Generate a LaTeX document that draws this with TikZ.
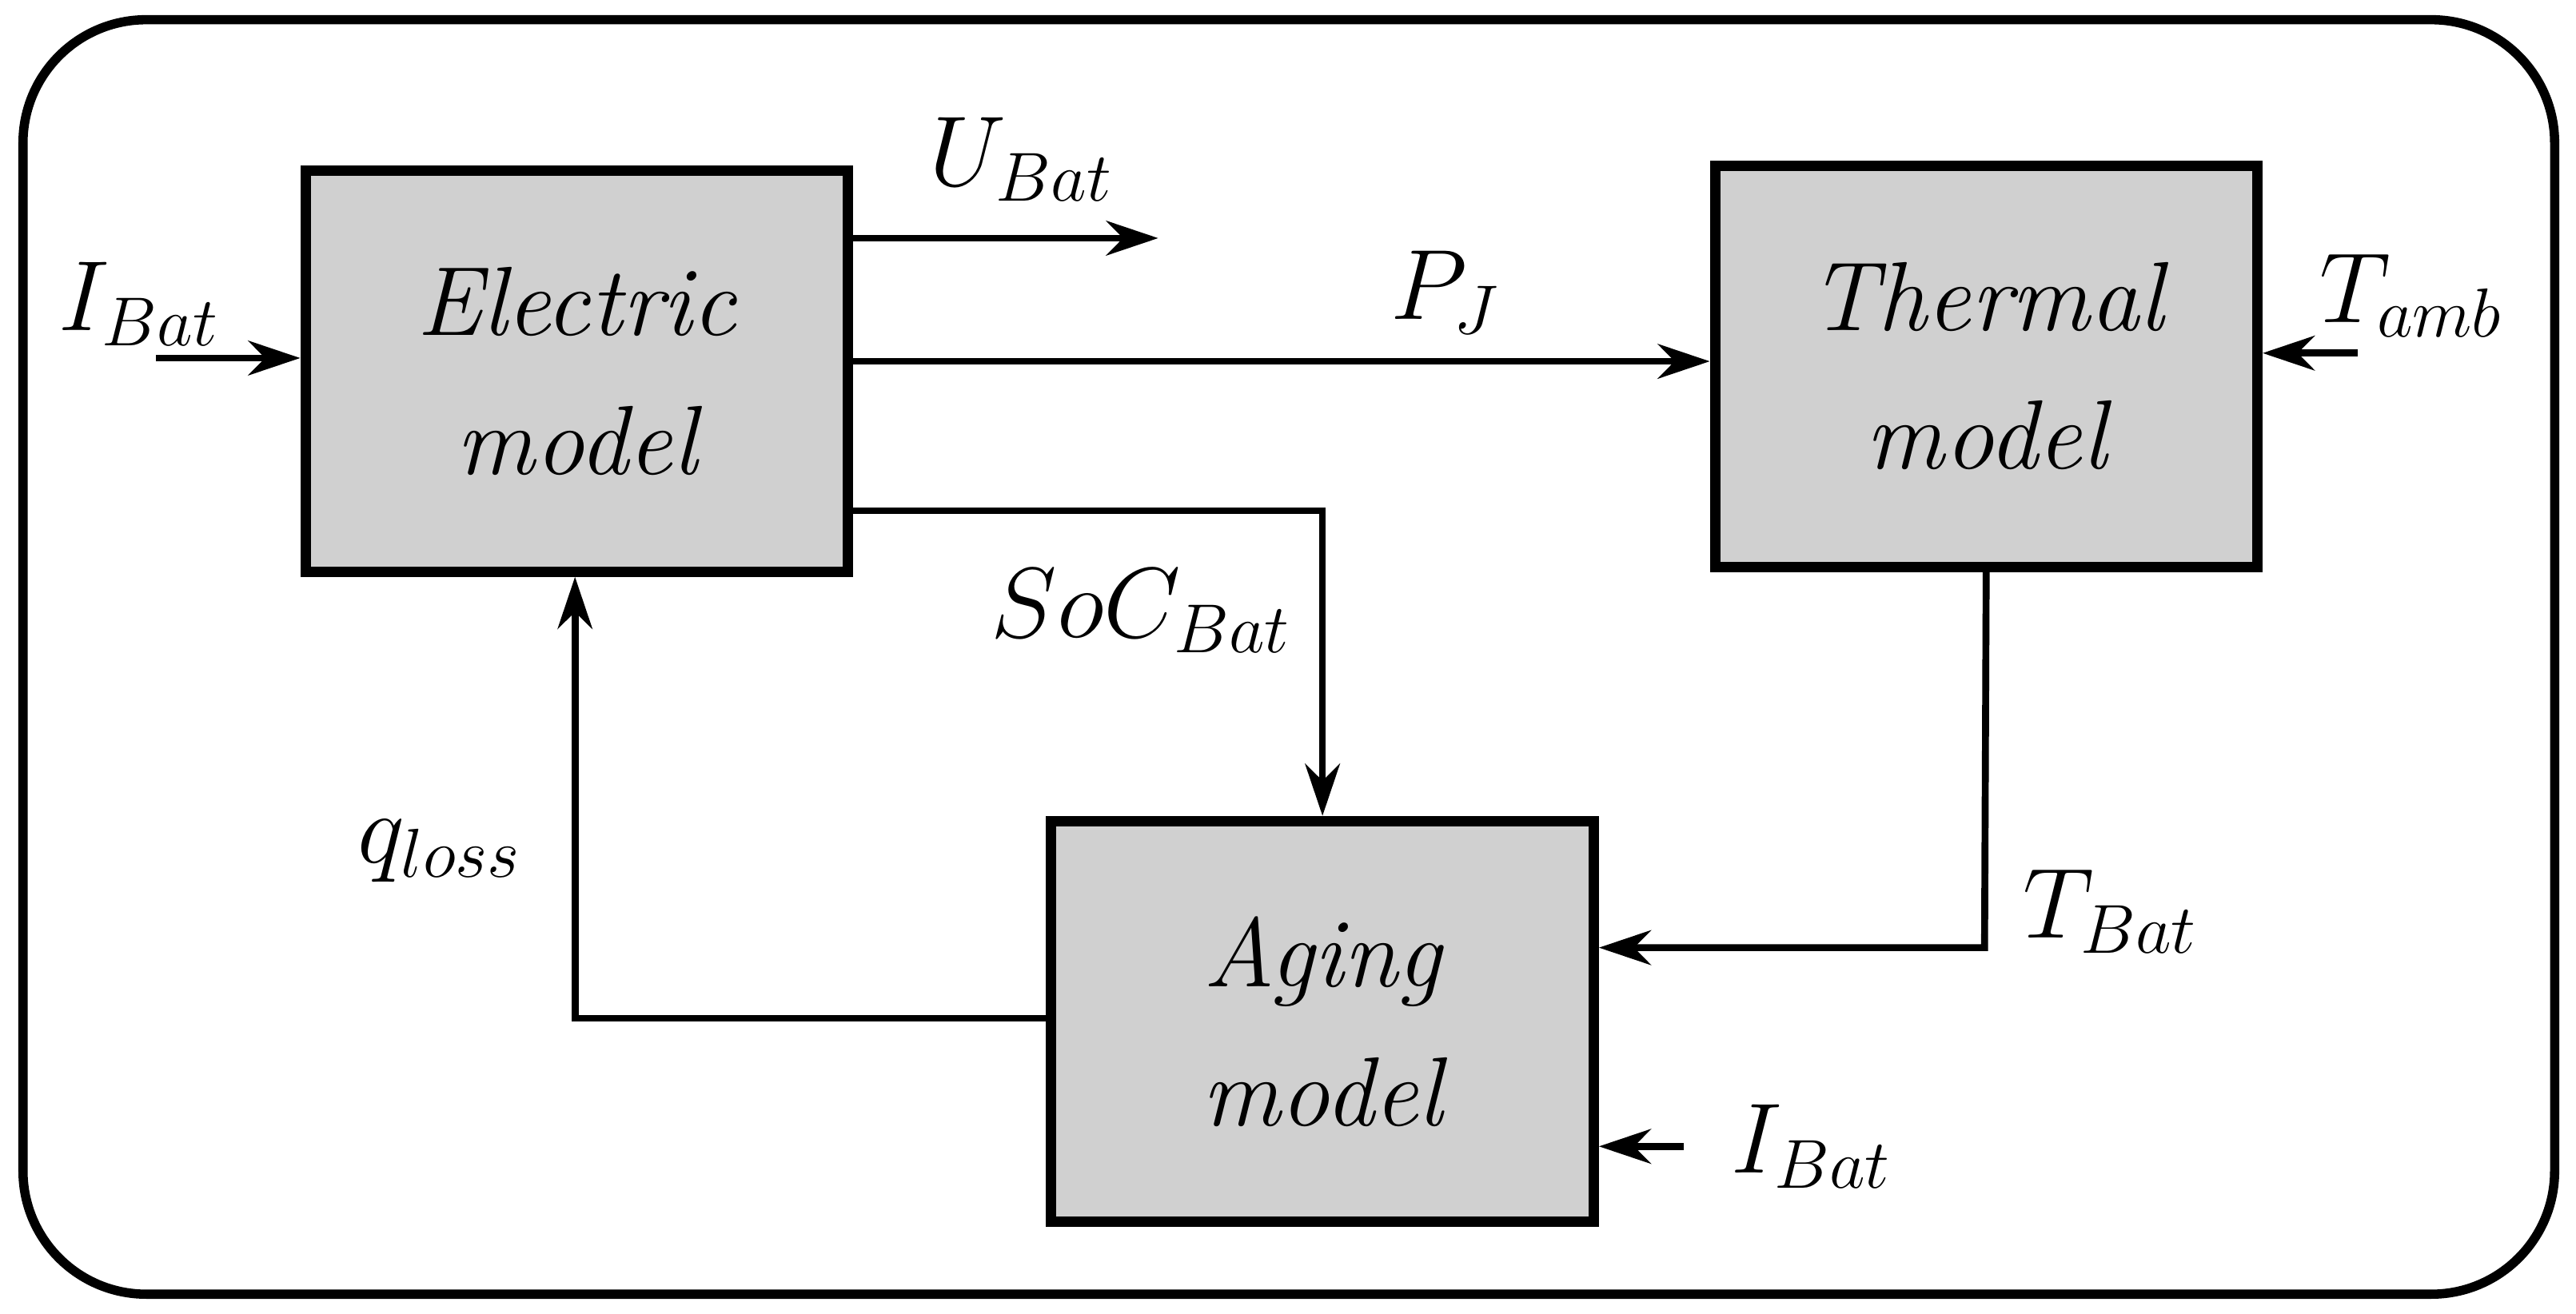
\documentclass[tikz,border=0pt]{standalone}
\usepackage{tikz}
\usetikzlibrary{arrows.meta,positioning}
\definecolor{boxgray}{RGB}{208,208,208}
\begin{document}
\begin{tikzpicture}[x=0.01cm,y=-0.01cm,>={Stealth[length=9pt,width=6pt]},line width=1.2pt,
    block/.style={draw=black,line width=1.8pt,fill=boxgray,minimum width=3.3cm,minimum height=2.44cm,align=center,font=\fontsize{17}{24}\selectfont\itshape},
    lbl/.style={font=\fontsize{17}{20}\selectfont}]
  \useasboundingbox (0,0) rectangle (1568,800);
  \draw[line width=1.6pt,rounded corners=0.75cm] (14,12) rectangle (1555,788);

  % blocks
  \node[block] (elec) at (351,226) {Electric\\model};
  \node[block] (therm) at (1209,223) {Thermal\\model};
  \node[block] (aging) at (805,622) {Aging\\model};

  % free ends
  \coordinate (ibin) at (95,218);
  \coordinate (ubout) at (705,145);
  \coordinate (tamb) at (1435,215);
  \coordinate (ibag) at (1025,698);

  \draw[->] (ibin) -- (ibin -| elec.west);
  \draw[->] (elec.east |- ubout) -- (ubout);
  \draw[->] (elec.east |- 0,220) -- (therm.west |- 0,220);
  \draw[->] (elec.east |- 0,311) -- (805,311) -- (aging.north);
  \draw[->] (therm.south) -- (1208,577) -- (aging.east |- 0,577);
  \draw[->] (tamb) -- (tamb -| therm.east);
  \draw[->] (ibag) -- (ibag -| aging.east);
  \draw[->] (aging.west |- 0,620) -- (350,620) -- (elec.south -| 350,0);

  % labels
  \node[lbl] (libin) at (85,185) {$I_{Bat}$};
  \node[lbl] (lubat) at (622,97) {$U_{Bat}$};
  \node[lbl] (lpj) at (880,178) {$P_J$};
  \node[lbl] (lsoc) at (695,372) {$SoC_{Bat}$};
  \node[lbl] (ltbat) at (1285,555) {$T_{Bat}$};
  \node[lbl] (ltamb) at (1468,180) {$T_{amb}$};
  \node[lbl] (libag) at (1103,698) {$I_{Bat}$};
  \node[lbl] (lqloss) at (268,518) {$q_{loss}$};
\end{tikzpicture}
\end{document}
